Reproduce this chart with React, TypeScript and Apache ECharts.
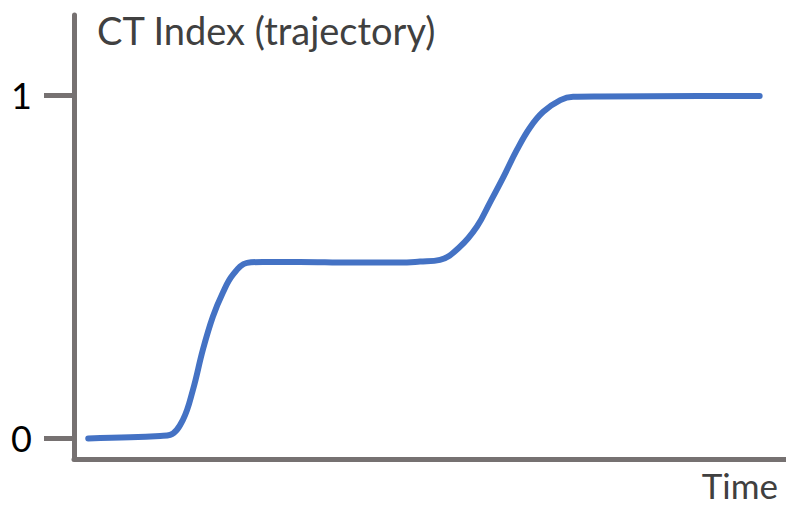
import React, { useEffect, useRef } from "react";
import * as echarts from "echarts";

const timeValues = [2, 7.9, 12.1, 13.5, 15.3, 16.7, 18.1, 19.5, 20.9, 22.3, 24.3, 26.5, 31.7, 38.8, 45.8, 48.6, 51.4, 54.2, 56.6, 58.4, 60.3, 62.2, 64.0, 65.9, 68.3, 70.1, 73.9, 87.9, 96.3];
const ctIndex = [0, 0.003, 0.007, 0.01, 0.054, 0.141, 0.258, 0.354, 0.424, 0.476, 0.511, 0.514, 0.514, 0.512, 0.512, 0.515, 0.52, 0.558, 0.617, 0.686, 0.761, 0.84, 0.904, 0.951, 0.985, 0.995, 0.996, 0.997, 0.997];
const yTicks = [0, 1];
const titleText = "CT Index (trajectory)";
const xTitle = "Time";

export default function App() {
  const ref = useRef<HTMLDivElement>(null);
  useEffect(() => {
    if (!ref.current) return;
    const chart = echarts.init(ref.current, null, { renderer: "svg" });
    const axisColor = "#767171";
    chart.setOption({
      animation: false,
      backgroundColor: "#ffffff",
      grid: { left: 74, right: 0, top: 15, bottom: 46 },
      xAxis: {
        type: "value",
        min: 0,
        max: 100,
        axisLine: { show: true, onZero: false, lineStyle: { color: axisColor, width: 5 } },
        axisTick: { show: false },
        axisLabel: { show: false },
        splitLine: { show: false },
      },
      yAxis: {
        type: "value",
        min: -0.06,
        max: 1.233,
        axisLine: { show: true, onZero: false, lineStyle: { color: axisColor, width: 5 } },
        axisTick: { show: true, length: 30, lineStyle: { color: axisColor, width: 5 }, customValues: yTicks },
        axisLabel: {
          show: true,
          customValues: yTicks,
          margin: 42,
          color: "#000000",
          fontSize: 36,
          fontFamily: "Lato",
          formatter: (v: number) => String(v),
        },
        splitLine: { show: false },
      },
      graphic: [
        {
          type: "text",
          left: 97,
          top: 11,
          style: { text: titleText, fontSize: 38, fontFamily: "Lato", fill: "#404040" },
        },
        {
          type: "text",
          right: 8,
          top: 467,
          style: { text: xTitle, fontSize: 35, lineHeight: 30, fontFamily: "Lato", fill: "#404040" },
        },
      ],
      series: [
        {
          type: "line",
          data: timeValues.map((t, i) => [t, ctIndex[i]]),
          smooth: 0.4,
          showSymbol: false,
          lineStyle: { color: "#4472C4", width: 6, cap: "round" },
        },
      ],
    });
    return () => chart.dispose();
  }, []);
  return <div ref={ref} style={{ position: "absolute", left: 0, top: 0, width: 786, height: 505 }} />;
}
